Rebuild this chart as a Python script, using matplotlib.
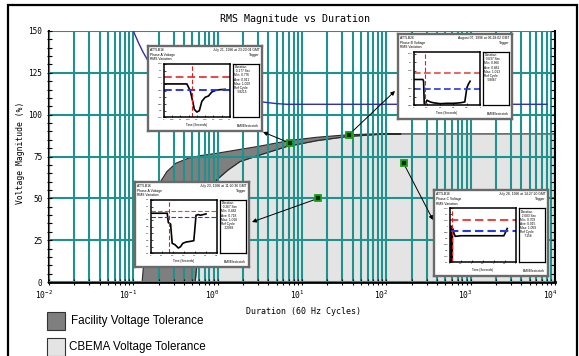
import matplotlib
matplotlib.use('Agg')
from matplotlib import pyplot as plt
from matplotlib.patches import Rectangle
from matplotlib.ticker import LogLocator, MultipleLocator, NullFormatter
from matplotlib.transforms import ScaledTranslation

plt.rcParams['font.family'] = 'DejaVu Sans Mono'

# CBEMA upper limit (blue curve)
upper_x = [0.1, 0.115, 0.13, 0.15, 0.25, 0.5, 1, 2, 3.35, 5, 6.6, 8000]
upper_y = [150, 143, 137.5, 132, 122, 114, 110.5, 108.5, 107.6, 106.6, 106.2, 106.2]

# facility tolerance band: outer and inner edge
fac_outer_x = [0.127, 0.135, 0.15, 0.18, 0.21, 0.25, 0.32, 0.45, 0.62, 1.0, 1.5, 3, 7, 15, 35, 80, 150]
fac_outer_y = [0, 15, 35, 50, 60, 66, 71, 74, 75.5, 77, 78.5, 81, 84.5, 86.5, 88, 88.6, 88.5]
fac_inner_x = [0.54, 0.56, 0.62, 0.75, 0.97, 1.33, 1.84, 3.2, 6.6, 15, 35, 80, 150]
fac_inner_y = [0, 8, 25, 45, 61, 67, 72, 76, 81, 84.5, 87, 88.2, 88.5]
cbema_level = 88.5
cbema_end = 10000

# recorded events (duration in cycles, magnitude in %)
event_x = [7.2, 36, 15.6, 160]
event_y = [83, 88, 50, 71]

yticks_main = [0, 25, 50, 75, 100, 125, 150]
xticks_main = [1e-2, 1e-1, 1e0, 1e1, 1e2, 1e3, 1e4]
xtick_labels = [r'$\mathtt{10^{-2}}$', r'$\mathtt{10^{-1}}$', r'$\mathtt{10^{0}}$', r'$\mathtt{10^{1}}$',
                r'$\mathtt{10^{2}}$', r'$\mathtt{10^{3}}$', r'$\mathtt{10^{4}}$']

# event screenshots
ins1_t = [0, 0.14, 0.16, 0.175, 0.185, 0.2, 0.215, 0.23, 0.25, 0.27, 0.29, 0.32, 0.37]
ins1_v = [1.0, 1.0, 0.95, 0.87, 0.81, 0.79, 0.8, 0.87, 0.9, 0.91, 0.94, 0.955, 0.96]
ins1_head = ['ATTLB16', 'Phase A Voltage', 'RMS Variation']
ins1_date = ['July 21, 1996 at 23:20:04 GMT', 'Trigger']
ins1_stats = ['Duration', '  0.177 Sec', 'Min: 0.776', 'Ave: 0.911', 'Max: 1.009', 'Ref Cycle', '    58215']

ins2_t = [0, 0.14, 0.15, 0.16, 0.18, 0.2, 0.25, 0.3, 0.4, 0.5, 0.6, 0.7, 0.77, 0.8, 0.82, 0.85]
ins2_v = [1.0, 1.0, 0.99, 0.86, 0.86, 0.88, 0.87, 0.865, 0.86, 0.862, 0.862, 0.865, 0.87, 0.95, 0.97, 0.99]
ins2_head = ['ATTLB26', 'Phase B Voltage', 'RMS Variation']
ins2_date = ['August 07, 1996 at 06:28:02 GMT', 'Trigger']
ins2_stats = ['Duration', '  0.637 Sec', 'Min: 0.866', 'Ave: 0.881', 'Max: 1.013', 'Ref Cycle', '    58067']

ins3_t = [0, 0.15, 0.16, 0.18, 0.195, 0.22, 0.25, 0.27, 0.29, 0.32, 0.36, 0.39, 0.41, 0.43, 0.45, 0.5]
ins3_v = [1.0, 1.0, 0.86, 0.84, 0.55, 0.53, 0.48, 0.5, 0.55, 0.57, 0.58, 0.59, 0.97, 0.98, 0.97, 0.99]
ins3_head = ['ATTLB16', 'Phase A Voltage', 'RMS Variation']
ins3_date = ['July 23, 1996 at 11:20:36 GMT', 'Trigger']
ins3_stats = ['Duration', '  0.267 Sec', 'Min: 0.482', 'Ave: 0.718', 'Max: 1.018', 'Ref Cycle', '    22088']

ins4_t = [0, 0.06, 0.07, 0.12, 0.13, 0.18, 0.25, 0.5, 1, 1.5, 2, 2.45, 2.55, 2.6]
ins4_v = [1.0, 1.0, 0.7, 0.7, 0.98, 0.95, 0.915, 0.92, 0.92, 0.92, 0.92, 0.92, 0.96, 0.98]
ins4_head = ['ATTLB16', 'Phase C Voltage', 'RMS Variation']
ins4_date = ['July 28, 1996 at 14:27:20 GMT', 'Trigger']
ins4_stats = ['Duration', '  2.683 Sec', 'Min: 0.709', 'Ave: 0.915', 'Max: 1.059', 'Ref Cycle', '     7156']

W, H = 579, 356
TEAL = '#1f928d'
SANS = 'Liberation Sans'


def px(x0, y0, x1, y1):
    # pixel box (top-left origin) -> figure fraction rect
    return [x0 / W, 1 - y1 / H, (x1 - x0) / W, (y1 - y0) / H]


fig = plt.figure(figsize=(W / 100, H / 100), dpi=100)
fig.patches.append(Rectangle((8 / W, -0.1), 569 / W, 1.1 - 5 / H, transform=fig.transFigure,
                             fill=False, ec='black', lw=1.6))

ax = fig.add_axes(px(49, 31, 555, 282))
ax.set_xscale('log')
ax.set_xlim(1e-2, 1e4)
ax.set_ylim(0, 150)

# regions
ax.fill(fac_inner_x + [cbema_end, cbema_end], fac_inner_y + [cbema_level, 0],
        fc='#e4e4e4', ec='#4a4a4a', lw=1.0, zorder=1)
ax.fill(fac_outer_x + fac_inner_x[::-1], fac_outer_y + fac_inner_y[::-1],
        fc='#7f7f7f', ec='#2a2a2a', lw=0.8, zorder=1.2)

ax.set_axisbelow(False)
ax.grid(True, which='major', axis='both', color=TEAL, lw=1.5)
ax.grid(True, which='minor', axis='x', color=TEAL, lw=1.5)

ax.plot(upper_x, upper_y, color='#3030a8', lw=1.0, zorder=3)

ax.set_yticks(yticks_main)
ax.yaxis.set_minor_locator(MultipleLocator(5))
ax.set_xticks(xticks_main)
ax.set_xticklabels(xtick_labels)
ax.xaxis.set_minor_locator(LogLocator(base=10, subs=range(2, 10), numticks=20))
ax.xaxis.set_minor_formatter(NullFormatter())
ax.tick_params(axis='y', which='both', direction='inout', length=3.6, width=0.8, labelsize=5.6, pad=3)
ax.tick_params(axis='x', which='both', direction='inout', length=5, width=0.8, labelsize=5.8, pad=2)
for lbl in ax.get_xticklabels():
    lbl.set_transform(lbl.get_transform() + ScaledTranslation(-0.05, 0, fig.dpi_scale_trans))

ax.spines['top'].set_visible(False)
ax.spines['right'].set_visible(False)
ax.spines['left'].set_linewidth(1.5)
ax.spines['bottom'].set_linewidth(2)

ax.set_title('RMS Magnitude vs Duration', fontsize=7.2, x=(295 - 49) / 506, y=1.036, pad=0)
ax.set_xlabel('Duration (60 Hz Cycles)', fontsize=6)
ax.xaxis.label.set_va('center')
ax.xaxis.set_label_coords((303 - 49) / 506, -(312 - 282) / 251)
ax.set_ylabel('Voltage Magnitude (%)', fontsize=5.8)
ax.yaxis.label.set_va('center')
ax.yaxis.set_label_coords(-(49 - 21) / 506, (282 - 153) / 251)

# right side ticks
ax2 = ax.twinx()
ax2.set_ylim(0, 150)
ax2.yaxis.set_major_locator(MultipleLocator(5))
ax2.tick_params(direction='in', length=3, width=0.8, labelright=False)
for s in ['top', 'bottom', 'left']:
    ax2.spines[s].set_visible(False)
ax2.spines['right'].set_linewidth(1.5)

# event markers + arrows to the screenshots
arrow_heads = [(263, 132), (395, 91), (252, 222), (433, 220)]
for (ex, ey), (hx, hy) in zip(zip(event_x, event_y), arrow_heads):
    ax.annotate('', xy=(hx, H - hy), xycoords='figure pixels', xytext=(ex, ey), textcoords='data',
                arrowprops=dict(arrowstyle='-|>', color='black', lw=0.7, mutation_scale=6,
                                shrinkA=0, shrinkB=0), annotation_clip=False, zorder=4)
ax.plot(event_x, event_y, 's', ms=4.5, mfc='#002a00', mec='#18a018', mew=1.3, zorder=6)


def draw_inset(box, head, date, stats, t, v, xlim, xticks, ylim, yticks, red, blue, mark, lw):
    x0, y0, x1, y1 = box
    w, h = x1 - x0, y1 - y0
    fr = fig.add_axes(px(x0, y0, x1, y1))
    fr.set_xticks([])
    fr.set_yticks([])
    fr.set_xlim(0, 1)
    fr.set_ylim(0, 1)
    for s in fr.spines.values():
        s.set_color('#6a6a6a')
        s.set_linewidth(1.7)
    for i, line in enumerate(head):
        fr.text(0.02, 0.975 - i * 0.055, line, fontsize=2.4, family=SANS, va='top')
    for i, line in enumerate(date):
        fr.text(0.98, 0.975 - i * 0.055, line, fontsize=2.4, family=SANS, va='top', ha='right')
    fr.text(0.97, 0.03, 'BMI/Electrotek', fontsize=2.4, family=SANS, ha='right', va='bottom')
    fr.text(0.43, 0.095, 'Time (Seconds)', fontsize=2.2, family=SANS, ha='center', va='top')

    pa = fig.add_axes(px(x0 + 0.137 * w, y0 + 0.21 * h, x0 + 0.72 * w, y0 + 0.84 * h))
    pa.plot(t, v, color='black', lw=1.2)
    pa.axhline(red, color='#e84848', ls=(0, (4, 2)), lw=lw)
    pa.axhline(blue, color='#2838e0', ls=(0, (4, 2)), lw=lw)
    pa.axvline(mark, color='#e02020', ls=(0, (4, 2)), lw=0.8)
    pa.set_xlim(xlim)
    pa.set_ylim(ylim)
    pa.set_xticks(xticks)
    pa.set_yticks(yticks)
    pa.set_xticklabels(['%g' % x for x in xticks], family=SANS)
    pa.set_yticklabels(['%g' % y for y in yticks], family=SANS)
    pa.tick_params(direction='in', length=1.2, width=0.5, labelsize=1.7, pad=0.8)
    for s in pa.spines.values():
        s.set_linewidth(1.1)

    sb = fig.add_axes(px(x0 + 0.745 * w, y0 + 0.21 * h, x0 + 0.973 * w, y0 + 0.84 * h))
    sb.set_xticks([])
    sb.set_yticks([])
    for s in sb.spines.values():
        s.set_linewidth(0.9)
    for i, line in enumerate(stats):
        sb.text(0.06, 0.97 - i * 0.075, line, fontsize=2.3, family=SANS, va='top', transform=sb.transAxes)


draw_inset((148, 46, 262, 131), ins1_head, ins1_date, ins1_stats, ins1_t, ins1_v,
           (0, 0.4), [0, 0.05, 0.1, 0.15, 0.2, 0.25, 0.3, 0.35, 0.4],
           (0.75, 1.15), [0.75, 0.8, 0.85, 0.9, 0.95, 1, 1.05, 1.1, 1.15], 1.05, 0.955, 0.17, 1.4)
draw_inset((398, 34, 512, 119), ins2_head, ins2_date, ins2_stats, ins2_t, ins2_v,
           (0, 1), [0, 0.2, 0.4, 0.6, 0.8, 1],
           (0.85, 1.16), [0.85, 0.9, 0.95, 1, 1.05, 1.1, 1.15], 1.035, 0.945, 0.165, 1.2)
draw_inset((135, 182, 249, 267), ins3_head, ins3_date, ins3_stats, ins3_t, ins3_v,
           (0, 0.6), [0, 0.1, 0.2, 0.3, 0.4, 0.5, 0.6],
           (0.4, 1.2), [0.4, 0.5, 0.6, 0.7, 0.8, 0.9, 1, 1.1, 1.2], 1.03, 0.95, 0.168, 0.8)
draw_inset((434, 190, 548, 276), ins4_head, ins4_date, ins4_stats, ins4_t, ins4_v,
           (0, 3), [0, 0.5, 1, 1.5, 2, 2.5, 3],
           (0.7, 1.15), [0.7, 0.75, 0.8, 0.85, 0.9, 0.95, 1, 1.05, 1.1, 1.15], 1.047, 0.956, 0.106, 1.5)

# legend
fig.patches.append(Rectangle((47 / W, 1 - 330 / H), 18 / W, 18 / H, transform=fig.transFigure,
                             fc='#7f7f7f', ec='#333333', lw=0.8))
fig.text(71 / W, 1 - 321 / H, 'Facility Voltage Tolerance', fontsize=8.4, family=SANS, va='center')
fig.patches.append(Rectangle((47 / W, 1 - 356 / H), 18 / W, 18 / H, transform=fig.transFigure,
                             fc='#e4e4e4', ec='#333333', lw=0.8))
fig.text(69 / W, 1 - 347 / H, 'CBEMA Voltage Tolerance', fontsize=8.4, family=SANS, va='center')

fig.savefig('out.png', dpi=100)
